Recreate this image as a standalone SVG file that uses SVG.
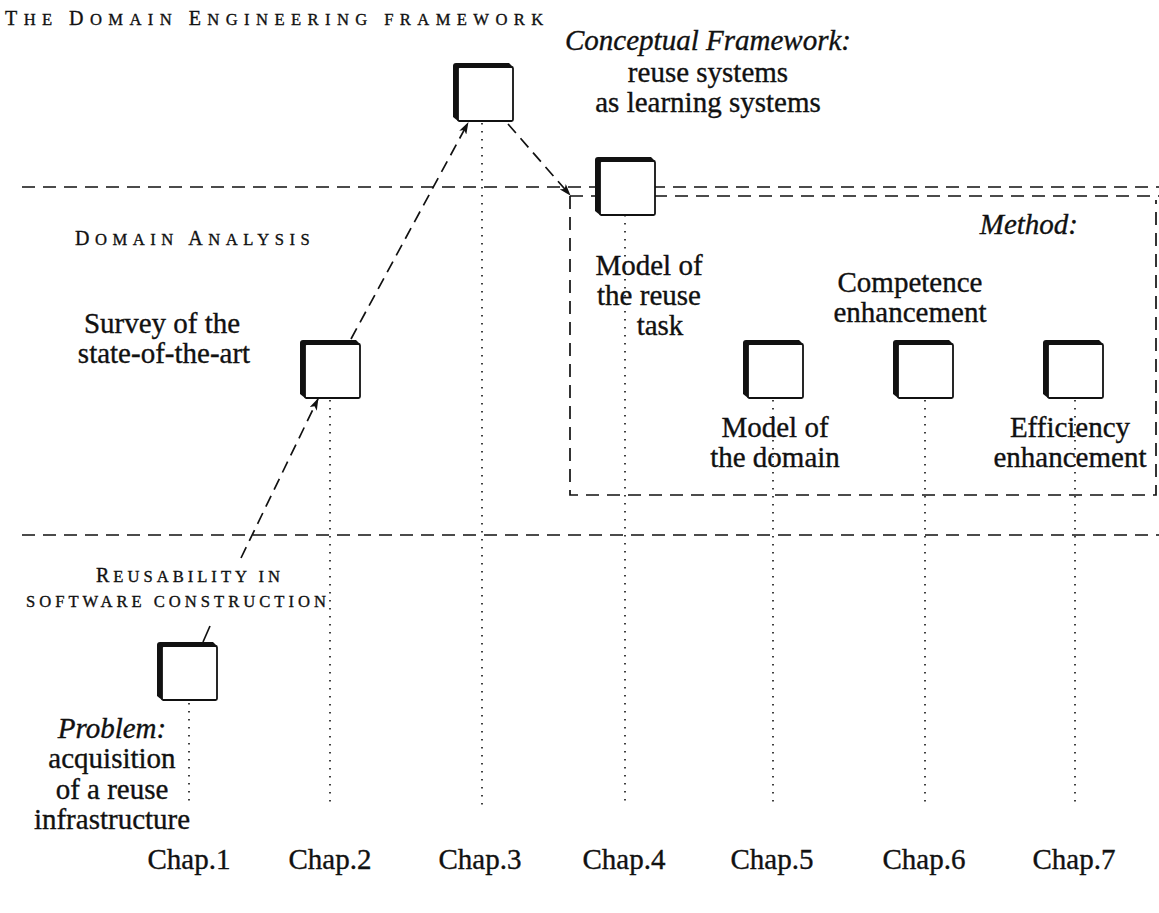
<svg xmlns="http://www.w3.org/2000/svg" width="1159" height="913" viewBox="0 0 1159 913">
  <style>
    .t { font-family: "Liberation Serif", "Times New Roman", serif; font-size: 29px; fill: #111; stroke: #111; stroke-width: 0.35; }
    .it { font-style: italic; }
    .sc { font-size: 20px; letter-spacing: 4px; }
    .sc tspan { font-size: 16.6px; }
    .sc tspan.cap { font-size: 20px; }
    .m { text-anchor: middle; }
    .e { text-anchor: end; }
    .dash { fill: none; stroke: #111; stroke-width: 1.7; stroke-dasharray: 13 8; }
    .dot { fill: none; stroke: #111; stroke-width: 1.6; stroke-dasharray: 1.6 6.4; }
    .arrow { fill: none; stroke: #111; stroke-width: 1.7; stroke-dasharray: 12 7; marker-end: url(#head); }
    .shadow { fill: #111; }
    .face { fill: #fff; stroke: #111; stroke-width: 1.8; }
  </style>
  <defs>
    <marker id="head" viewBox="0 0 12 8" refX="11" refY="4" markerWidth="12" markerHeight="8" markerUnits="userSpaceOnUse" orient="auto">
      <path d="M0,0 L12,4 L0,8 L3,4 Z" fill="#111"/>
    </marker>
    <!-- box with a dark depth edge along the top and left -->
    <g id="box">
      <path class="shadow" d="M5,58 L0,54 L0,3 Q0,0 3,0 L56,0 L60,4 L5,4 Z"/>
      <rect class="face" x="5" y="4" width="55" height="54" rx="1.5"/>
    </g>
  </defs>

  <rect width="1159" height="913" fill="#fff"/>

  <!-- level separators and the method frame -->
  <g id="levels">
    <line class="dash" x1="22" y1="187" x2="1159" y2="187"/>
    <line class="dash" x1="22" y1="535" x2="1159" y2="535"/>
    <path class="dash" d="M570,196 L1159,196 M570,196 L570,495 L1156,495 L1156,200"/>
  </g>

  <!-- chapter time lines -->
  <g id="timelines">
    <line class="dot" x1="189" y1="703" x2="189" y2="806"/>
    <line class="dot" x1="330" y1="400" x2="330" y2="806"/>
    <line class="dot" x1="482" y1="123" x2="482" y2="806"/>
    <line class="dot" x1="625" y1="215" x2="625" y2="806"/>
    <line class="dot" x1="773" y1="400" x2="773" y2="806"/>
    <line class="dot" x1="925" y1="400" x2="925" y2="806"/>
    <line class="dot" x1="1075" y1="400" x2="1075" y2="806"/>
  </g>

  <!-- connectors -->
  <g id="connectors">
    <path d="M203,642 L210,626" fill="none" stroke="#111" stroke-width="1.7"/>
    <path class="arrow" d="M241,558 L318,399"/>
    <path class="arrow" d="M351,339 L468,123"/>
    <path class="arrow" d="M508,124 L570,195"/>
  </g>

  <!-- nodes -->
  <g id="chap1"><use href="#box" x="157" y="642"/></g>
  <g id="chap2"><use href="#box" x="300" y="340"/></g>
  <g id="chap3"><use href="#box" x="453" y="63"/></g>
  <g id="chap4"><use href="#box" x="595" y="157"/></g>
  <g id="chap5"><use href="#box" x="743" y="340"/></g>
  <g id="chap6"><use href="#box" x="893" y="340"/></g>
  <g id="chap7"><use href="#box" x="1043" y="340"/></g>

  <!-- labels -->
  <g id="labels">
    <text class="t sc" x="5" y="25" style="letter-spacing:6.4px"><tspan class="cap">T</tspan><tspan>HE </tspan><tspan class="cap">D</tspan><tspan>OMAIN </tspan><tspan class="cap">E</tspan><tspan>NGINEERING FRAMEWORK</tspan></text>
    <text class="t it m" x="708" y="50">Conceptual Framework:</text>
    <text class="t m" x="708" y="82">reuse systems</text>
    <text class="t m" x="708" y="112">as learning systems</text>

    <text class="t sc" x="75" y="245" style="letter-spacing:5.5px"><tspan class="cap">D</tspan><tspan>OMAIN </tspan><tspan class="cap">A</tspan><tspan>NALYSIS</tspan></text>
    <text class="t it e" x="1078" y="234">Method:</text>

    <text class="t m" x="162" y="333">Survey of the</text>
    <text class="t m" x="164" y="363">state-of-the-art</text>

    <text class="t m" x="649" y="275">Model of</text>
    <text class="t m" x="649" y="305">the reuse</text>
    <text class="t m" x="660" y="335">task</text>

    <text class="t m" x="910" y="292">Competence</text>
    <text class="t m" x="910" y="322">enhancement</text>

    <text class="t m" x="775" y="437">Model of</text>
    <text class="t m" x="775" y="467">the domain</text>

    <text class="t m" x="1070" y="437">Efficiency</text>
    <text class="t m" x="1070" y="467">enhancement</text>

    <text class="t sc m" x="190" y="582"><tspan class="cap">R</tspan><tspan>EUSABILITY IN</tspan></text>
    <text class="t sc m" x="178" y="607"><tspan>SOFTWARE CONSTRUCTION</tspan></text>

    <text class="t it m" x="112" y="738">Problem:</text>
    <text class="t m" x="112" y="768">acquisition</text>
    <text class="t m" x="112" y="799">of a reuse</text>
    <text class="t m" x="112" y="829">infrastructure</text>

    <text class="t m" x="189" y="869">Chap.1</text>
    <text class="t m" x="330" y="869">Chap.2</text>
    <text class="t m" x="480" y="869">Chap.3</text>
    <text class="t m" x="624" y="869">Chap.4</text>
    <text class="t m" x="772" y="869">Chap.5</text>
    <text class="t m" x="924" y="869">Chap.6</text>
    <text class="t m" x="1074" y="869">Chap.7</text>
  </g>
</svg>
